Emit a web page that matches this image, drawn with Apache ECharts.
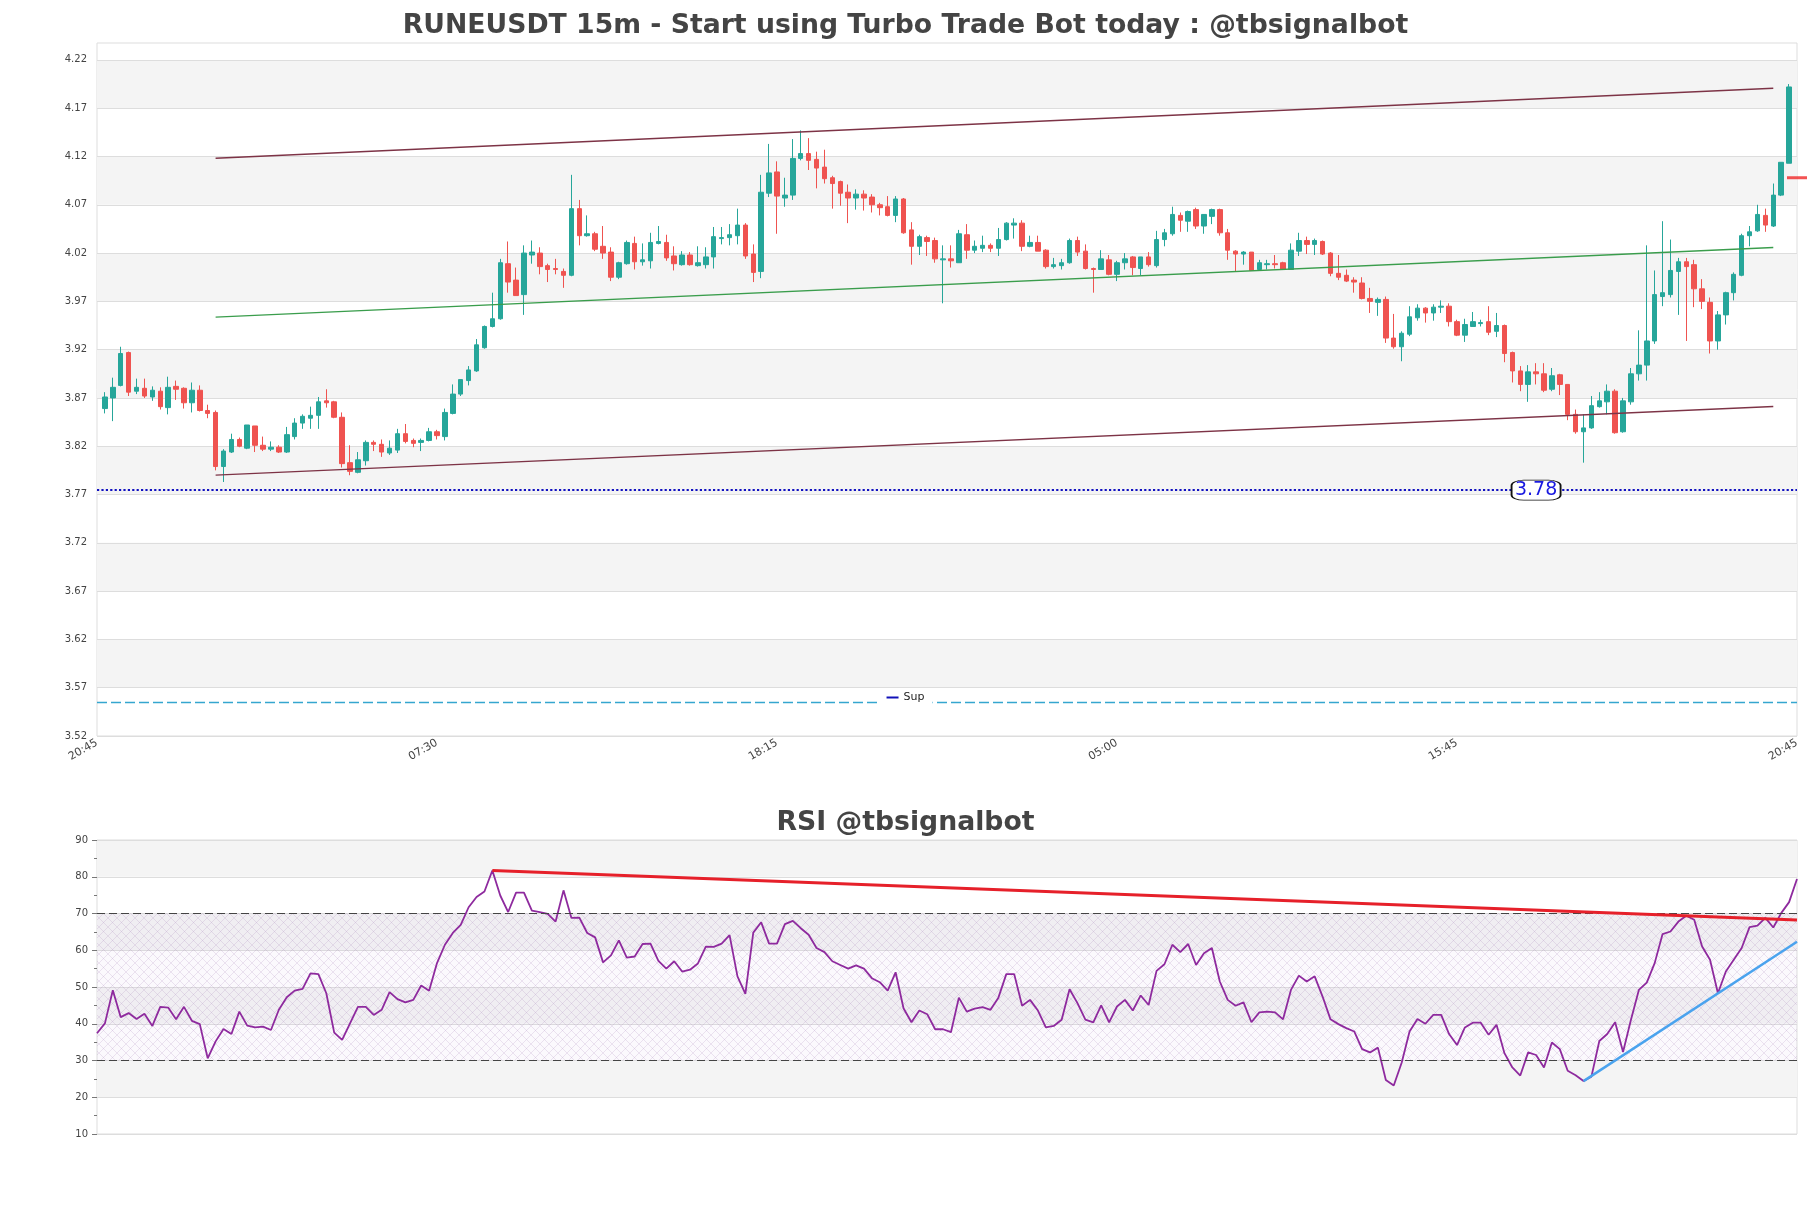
<!DOCTYPE html>
<html><head><meta charset="utf-8">
<script src="https://cdn.jsdelivr.net/npm/echarts@6/dist/echarts.min.js"></script>
<style>html,body{margin:0;padding:0;background:#fff}#c{width:1811px;height:1208px}</style>
</head><body><div id="c"></div>
<script>
// ---- data ----
const tickLabels = ['20:45', '07:30', '18:15', '05:00', '15:45', '20:45'];
const labelStep = 43;
const slotCount = 216;
const priceTicks = [3.52, 3.57, 3.62, 3.67, 3.72, 3.77, 3.82, 3.87, 3.92, 3.97, 4.02, 4.07, 4.12, 4.17, 4.22];
const priceMin = 3.52, priceMax = 4.2375;
// candles [open, close, low, high], slots 1..214
const candles = [
[3.859,3.871,3.854,3.876],[3.870,3.881,3.846,3.891],[3.883,3.916,3.882,3.923],[3.917,3.876,3.872,3.918],[3.877,3.881,3.874,3.890],
[3.880,3.872,3.870,3.890],[3.871,3.878,3.867,3.882],[3.877,3.861,3.858,3.881],[3.860,3.881,3.853,3.892],[3.882,3.879,3.868,3.888],
[3.880,3.865,3.859,3.881],[3.865,3.878,3.855,3.886],[3.878,3.857,3.856,3.883],[3.857,3.854,3.849,3.863],[3.855,3.799,3.795,3.857],
[3.799,3.815,3.783,3.817],[3.814,3.827,3.813,3.833],[3.827,3.820,3.819,3.829],[3.818,3.842,3.817,3.842],[3.841,3.821,3.814,3.841],
[3.821,3.817,3.815,3.830],[3.817,3.819,3.815,3.825],[3.819,3.814,3.813,3.821],[3.814,3.832,3.813,3.840],[3.830,3.844,3.827,3.849],
[3.844,3.851,3.838,3.853],[3.849,3.852,3.838,3.861],[3.852,3.866,3.838,3.871],[3.867,3.865,3.860,3.879],[3.866,3.850,3.849,3.867],
[3.850,3.802,3.798,3.855],[3.803,3.794,3.790,3.821],[3.793,3.806,3.792,3.814],[3.805,3.824,3.800,3.826],[3.824,3.822,3.815,3.826],
[3.822,3.814,3.809,3.827],[3.813,3.818,3.811,3.826],[3.816,3.833,3.813,3.838],[3.833,3.825,3.823,3.843],[3.826,3.823,3.819,3.828],
[3.824,3.826,3.815,3.828],[3.826,3.835,3.825,3.839],[3.835,3.831,3.827,3.837],[3.830,3.855,3.826,3.859],[3.854,3.874,3.853,3.884],
[3.874,3.889,3.872,3.889],[3.888,3.899,3.883,3.903],[3.898,3.925,3.897,3.931],[3.922,3.944,3.921,3.945],[3.944,3.952,3.943,3.979],
[3.952,4.010,3.951,4.014],[4.009,3.990,3.979,4.032],[3.992,3.976,3.976,4.005],[3.977,4.020,3.956,4.028],[4.018,4.021,4.009,4.033],
[4.020,4.006,3.998,4.026],[4.007,4.003,3.990,4.009],[4.004,4.003,3.998,4.014],[4.001,3.997,3.984,4.004],[3.997,4.066,3.996,4.101],
[4.066,4.038,4.028,4.075],[4.038,4.040,4.037,4.059],[4.040,4.024,4.022,4.042],[4.027,4.020,4.014,4.048],[4.021,3.995,3.991,4.026],
[3.995,4.010,3.993,4.011],[4.009,4.031,4.008,4.033],[4.030,4.011,4.003,4.037],[4.011,4.013,4.007,4.030],[4.012,4.031,4.004,4.041],
[4.030,4.032,4.029,4.048],[4.031,4.015,4.012,4.039],[4.017,4.009,4.002,4.027],[4.008,4.018,4.007,4.022],[4.018,4.008,4.007,4.021],
[4.007,4.010,4.006,4.027],[4.008,4.016,4.004,4.026],[4.016,4.037,4.004,4.047],[4.035,4.036,4.029,4.047],[4.036,4.039,4.028,4.050],
[4.038,4.049,4.029,4.066],[4.049,4.017,4.014,4.051],[4.019,4.000,3.990,4.029],[4.001,4.083,3.994,4.101],[4.082,4.103,4.078,4.133],
[4.104,4.079,4.040,4.115],[4.077,4.080,4.068,4.098],[4.080,4.118,4.075,4.138],[4.118,4.123,4.116,4.147],[4.123,4.116,4.106,4.139],
[4.117,4.108,4.087,4.125],[4.109,4.097,4.092,4.127],[4.098,4.092,4.066,4.100],[4.094,4.082,4.069,4.095],[4.083,4.077,4.051,4.091],
[4.077,4.081,4.065,4.086],[4.081,4.077,4.064,4.085],[4.078,4.070,4.062,4.081],[4.070,4.067,4.059,4.072],[4.068,4.059,4.058,4.079],
[4.059,4.076,4.052,4.079],[4.076,4.041,4.040,4.077],[4.044,4.027,4.008,4.052],[4.027,4.037,4.018,4.039],[4.036,4.032,4.017,4.038],
[4.033,4.014,4.010,4.036],[4.013,4.014,3.968,4.028],[4.014,4.012,4.005,4.028],[4.010,4.040,4.010,4.044],[4.039,4.023,4.014,4.050],
[4.023,4.027,4.020,4.033],[4.025,4.028,4.021,4.038],[4.028,4.025,4.021,4.030],[4.025,4.034,4.017,4.046],[4.034,4.051,4.033,4.052],
[4.049,4.051,4.035,4.056],[4.051,4.027,4.022,4.054],[4.027,4.031,4.026,4.038],[4.031,4.022,4.022,4.038],[4.023,4.006,4.004,4.024],
[4.006,4.008,4.004,4.015],[4.007,4.010,4.003,4.014],[4.010,4.033,4.009,4.035],[4.033,4.021,4.017,4.037],[4.022,4.004,4.003,4.029],
[4.004,4.003,3.979,4.005],[4.003,4.014,4.003,4.023],[4.013,3.998,3.997,4.018],[3.998,4.010,3.991,4.012],[4.010,4.014,4.003,4.020],
[4.016,4.005,3.997,4.017],[4.004,4.016,3.997,4.016],[4.016,4.008,4.006,4.021],[4.007,4.034,4.005,4.043],[4.034,4.041,4.027,4.045],
[4.040,4.060,4.038,4.068],[4.059,4.054,4.042,4.062],[4.053,4.063,4.042,4.064],[4.065,4.048,4.045,4.067],[4.048,4.060,4.040,4.060],
[4.058,4.065,4.050,4.066],[4.065,4.041,4.038,4.066],[4.041,4.023,4.013,4.045],[4.022,4.019,4.001,4.023],[4.019,4.021,4.008,4.022],
[4.021,4.002,4.002,4.021],[4.003,4.010,4.002,4.013],[4.008,4.009,4.003,4.013],[4.009,4.008,4.004,4.018],[4.010,4.003,4.003,4.011],
[4.003,4.023,4.003,4.030],[4.022,4.033,4.017,4.041],[4.033,4.029,4.019,4.037],[4.029,4.033,4.018,4.035],[4.032,4.019,4.018,4.033],
[4.020,3.999,3.996,4.021],[3.999,3.995,3.992,4.018],[3.997,3.991,3.990,4.003],[3.992,3.990,3.979,3.995],[3.989,3.973,3.972,3.995],
[3.973,3.970,3.958,3.984],[3.969,3.972,3.955,3.974],[3.972,3.932,3.927,3.975],[3.932,3.923,3.921,3.957],[3.923,3.937,3.908,3.939],
[3.936,3.954,3.934,3.965],[3.953,3.963,3.950,3.967],[3.963,3.958,3.948,3.964],[3.958,3.964,3.950,3.967],[3.964,3.965,3.958,3.971],
[3.965,3.949,3.944,3.968],[3.949,3.935,3.934,3.951],[3.935,3.946,3.928,3.952],[3.944,3.949,3.944,3.959],[3.947,3.948,3.944,3.951],
[3.949,3.938,3.935,3.965],[3.939,3.945,3.933,3.958],[3.945,3.916,3.907,3.946],[3.917,3.898,3.886,3.918],[3.898,3.884,3.877,3.903],
[3.884,3.897,3.866,3.904],[3.897,3.895,3.884,3.906],[3.895,3.878,3.876,3.906],[3.879,3.893,3.877,3.901],[3.894,3.884,3.873,3.895],
[3.884,3.853,3.847,3.884],[3.853,3.835,3.833,3.858],[3.835,3.839,3.803,3.853],[3.839,3.862,3.838,3.872],[3.861,3.867,3.860,3.876],
[3.866,3.877,3.853,3.884],[3.877,3.834,3.833,3.879],[3.835,3.867,3.834,3.870],[3.866,3.895,3.863,3.901],[3.895,3.904,3.888,3.940],
[3.904,3.929,3.888,4.028],[3.929,3.977,3.926,4.002],[3.975,3.979,3.965,4.053],[3.977,4.002,3.974,4.034],[4.001,4.011,3.956,4.015],
[4.011,4.006,3.929,4.015],[4.008,3.983,3.964,4.013],[3.983,3.970,3.962,3.993],[3.969,3.929,3.916,3.974],[3.929,3.956,3.920,3.960],
[3.956,3.979,3.946,3.980],[3.979,3.998,3.971,4.000],[3.997,4.038,3.996,4.040],[4.038,4.042,4.027,4.048],[4.043,4.060,4.042,4.070],
[4.059,4.049,4.042,4.066],[4.048,4.080,4.047,4.092],[4.080,4.114,4.079,4.114],[4.113,4.192,4.113,4.195]
];
const rsiValues = [
37.4,40.1,49.1,41.8,42.9,41.3,42.7,39.4,44.6,44.4,41.2,44.6,40.8,39.9,30.6,35.2,38.6,37.2,43.3,39.5,
39.0,39.2,38.3,43.8,47.2,49.0,49.5,53.7,53.5,48.3,37.6,35.6,40.1,44.6,44.6,42.4,43.8,48.6,46.7,45.8,
46.5,50.4,49.0,56.5,61.5,64.7,66.9,71.7,74.5,76.0,81.7,74.9,70.4,75.7,75.7,70.8,70.4,69.9,67.8,76.3,
68.8,68.9,64.7,63.5,56.7,58.6,
62.7,58.0,58.3,61.7,61.8,57.1,55.0,57.0,54.2,54.7,56.4,61.0,60.9,61.8,64.1,52.9,48.1,64.8,67.6,61.8,
61.8,67.1,68.0,66.0,64.2,60.6,59.5,57.0,56.0,55.0,55.9,55.0,52.4,51.3,49.0,54.0,44.2,40.4,43.6,42.6,
38.5,38.5,37.7,47.1,43.3,44.1,44.5,43.8,47.1,53.5,53.5,44.9,46.5,43.6,39.0,39.4,41.1,49.4,45.6,41.1,
40.4,45.0,40.4,44.7,46.5,43.6,47.7,45.1,54.4,56.2,61.5,59.5,61.7,56.0,
59.2,60.6,51.5,46.5,44.9,45.8,40.4,43.1,43.3,43.1,41.2,49.2,53.1,51.5,52.9,47.4,41.2,39.9,38.8,37.9,
33.1,32.2,33.5,24.7,23.2,29.4,37.9,41.3,40.0,42.4,42.4,37.2,34.2,39.0,40.3,40.3,37.0,39.7,32.0,28.1,
25.9,32.2,31.5,28.1,34.9,33.1,27.2,26.0,24.4,25.6,35.3,37.2,40.4,32.3,41.1,49.2,51.2,56.5,64.4,65.1,
67.8,69.4,68.3,61.0,57.4,48.3,54.2,57.4,60.6,66.3,66.7,68.8,66.2,70.1,73.1,79.4
];
const supLevel = 3.7745, supLabel = '3.78', supLabelSlot = 182;
const lowSupLevel = 3.5550;
const lastMarkSlot = 215, lastMarkPrice = 4.098;
const channelSlots = [15, 212];
const channelUpper = [4.1182, 4.1907];
const channelMiddle = [3.9537, 4.0258];
const channelLower = [3.7901, 3.8612];
const rsiDownTrend = [[50, 81.7], [215, 68.2]];
const rsiUpTrend = [[188, 24.4], [215, 62.3]];
const rsiBands = [30, 70];

// ---- build ----
const categories = [];
for (let i = 0; i < slotCount; i++) {
  const m = (20 * 60 + 45 + i * 15) % 1440;
  categories.push(String(Math.floor(m / 60)).padStart(2, '0') + ':' + String(m % 60).padStart(2, '0'));
}
const candleData = ['-'].concat(candles).concat(['-']);

function hatch() {
  const c = document.createElement('canvas'); c.width = 9; c.height = 9;
  const g = c.getContext('2d');
  g.fillStyle = 'rgba(200,170,220,0.07)'; g.fillRect(0, 0, 9, 9);
  g.strokeStyle = 'rgba(160,125,180,0.28)'; g.lineWidth = 0.7;
  g.beginPath(); g.moveTo(0, 0); g.lineTo(9, 9); g.moveTo(9, 0); g.lineTo(0, 9); g.stroke();
  return c;
}
const TFONT = 'DejaVu Sans';
const chanStyle = (color) => ({ color: color, width: 1.4, type: 'solid' });

const option = {
  animation: false,
  backgroundColor: '#fff',
  textStyle: { fontFamily: TFONT },
  title: [
    { text: 'RUNEUSDT 15m - Start using Turbo Trade Bot today : @tbsignalbot', left: 'center', top: 8,
      textStyle: { fontFamily: TFONT, fontSize: 26.7, fontWeight: 'bold', color: '#444' } },
    { text: 'RSI @tbsignalbot', left: 'center', top: 805,
      textStyle: { fontFamily: TFONT, fontSize: 26.7, fontWeight: 'bold', color: '#444' } }
  ],
  legend: {
    data: [{ name: 'Sup', icon: 'rect' }], left: 'center', top: 688, backgroundColor: '#fff',
    padding: [4, 8, 7, 8], itemWidth: 12, itemHeight: 2, itemGap: 6, z: 10,
    textStyle: { fontFamily: TFONT, fontSize: 11, color: '#222' }
  },
  grid: [
    { left: 97, right: 14, top: 43, height: 693, show: true, borderColor: '#ddd', borderWidth: 1 },
    { left: 97, right: 14, top: 840, height: 294, show: true, borderColor: '#ddd', borderWidth: 1 }
  ],
  xAxis: [
    { type: 'category', gridIndex: 0, data: categories, boundaryGap: false,
      axisLine: { show: false }, axisTick: { show: false }, splitLine: { show: false },
      axisLabel: { interval: labelStep - 1, rotate: 30, fontSize: 11, color: '#444', margin: 6, fontFamily: TFONT,
        formatter: (v, i) => tickLabels[Math.round(i / labelStep)] } },
    { type: 'category', gridIndex: 1, data: categories, boundaryGap: false,
      axisLine: { show: false }, axisTick: { show: false }, axisLabel: { show: false }, splitLine: { show: false } }
  ],
  yAxis: [
    { type: 'value', gridIndex: 0, min: priceMin, max: priceMax,
      axisLine: { show: false }, axisTick: { show: false, customValues: priceTicks },
      axisLabel: { customValues: priceTicks, formatter: v => v.toFixed(2), fontSize: 10, color: '#444', margin: 10, fontFamily: TFONT },
      splitLine: { show: true, lineStyle: { color: '#ddd', width: 1 } },
      splitArea: { show: true, areaStyle: { color: ['rgba(255,255,255,0)', '#f4f4f4'] } } },
    { type: 'value', gridIndex: 1, min: 10, max: 90, interval: 10,
      axisLine: { show: false }, axisTick: { show: true, length: 5, lineStyle: { color: '#777' } },
      minorTick: { show: true, splitNumber: 2, length: 3, lineStyle: { color: '#777' } },
      axisLabel: { fontSize: 10, color: '#444', margin: 9, fontFamily: TFONT },
      splitLine: { show: true, lineStyle: { color: '#ddd' } },
      splitArea: { show: true, areaStyle: { color: ['rgba(255,255,255,0)', '#f4f4f4'] } } }
  ],
  series: [
    { name: 'RUNEUSDT', type: 'candlestick', xAxisIndex: 0, yAxisIndex: 0, data: candleData, barWidth: 5,
      itemStyle: { color: '#26a69a', color0: '#ef5350', borderColor: '#26a69a', borderColor0: '#ef5350', borderWidth: 1 },
      markLine: { silent: true, symbol: ['none', 'none'], label: { show: false }, animation: false, precision: 4,
        data: [
          [{ coord: [channelSlots[0], channelUpper[0]], lineStyle: chanStyle('#7d3346') }, { coord: [channelSlots[1], channelUpper[1]] }],
          [{ coord: [channelSlots[0], channelMiddle[0]], lineStyle: chanStyle('#3a9d4c') }, { coord: [channelSlots[1], channelMiddle[1]] }],
          [{ coord: [channelSlots[0], channelLower[0]], lineStyle: chanStyle('#7d3346') }, { coord: [channelSlots[1], channelLower[1]] }]
        ] } },
    { name: 'Sup', type: 'line', xAxisIndex: 0, yAxisIndex: 0, data: [], color: '#1111b8',
      lineStyle: { color: '#1111b8' },
      markLine: { silent: true, symbol: ['none', 'none'], label: { show: false }, animation: false, precision: 4,
        data: [
          { yAxis: supLevel, lineStyle: { color: '#1111c0', width: 2.2, type: 'dotted' } },
          { yAxis: lowSupLevel, lineStyle: { color: '#35a6cf', width: 1.4, type: [10, 4] } }
        ] },
      markPoint: { silent: true, animation: false, z: 10,
        data: [{ coord: [supLabelSlot, supLevel], value: supLabel }],
        symbol: 'roundRect', symbolSize: [49, 20],
        itemStyle: { color: '#fff', borderColor: '#111', borderWidth: 1.2 },
        label: { show: true, position: 'inside', formatter: supLabel, color: '#1a1ae0', fontSize: 19, fontFamily: TFONT } } },
    { name: 'last', type: 'scatter', xAxisIndex: 0, yAxisIndex: 0, clip: false, z: 5,
      data: [[lastMarkSlot, lastMarkPrice]], symbol: 'rect', symbolSize: [20, 3],
      itemStyle: { color: '#f02828' } },
    { name: 'RSI', type: 'line', xAxisIndex: 1, yAxisIndex: 1, data: rsiValues, symbol: 'none',
      lineStyle: { color: '#8e2a9e', width: 1.8 }, itemStyle: { color: '#8e2a9e' }, z: 3,
      markArea: { silent: true, animation: false,
        data: [[{ yAxis: rsiBands[0], itemStyle: { color: { image: hatch(), repeat: 'repeat' } } }, { yAxis: rsiBands[1] }]] },
      markLine: { silent: true, symbol: ['none', 'none'], label: { show: false }, animation: false, precision: 4,
        data: [
          { yAxis: rsiBands[1], lineStyle: { color: '#444', width: 1.2, type: [8, 4] } },
          { yAxis: rsiBands[0], lineStyle: { color: '#444', width: 1.2, type: [8, 4] } },
          [{ coord: rsiDownTrend[0], lineStyle: { color: '#e6202a', width: 3, type: 'solid' } }, { coord: rsiDownTrend[1] }],
          [{ coord: rsiUpTrend[0], lineStyle: { color: '#4aa3ee', width: 2.5, type: 'solid' } }, { coord: rsiUpTrend[1] }]
        ] } }
  ]
};
const chart = echarts.init(document.getElementById('c'), null, { renderer: 'canvas' });
chart.setOption(option);
</script></body></html>
